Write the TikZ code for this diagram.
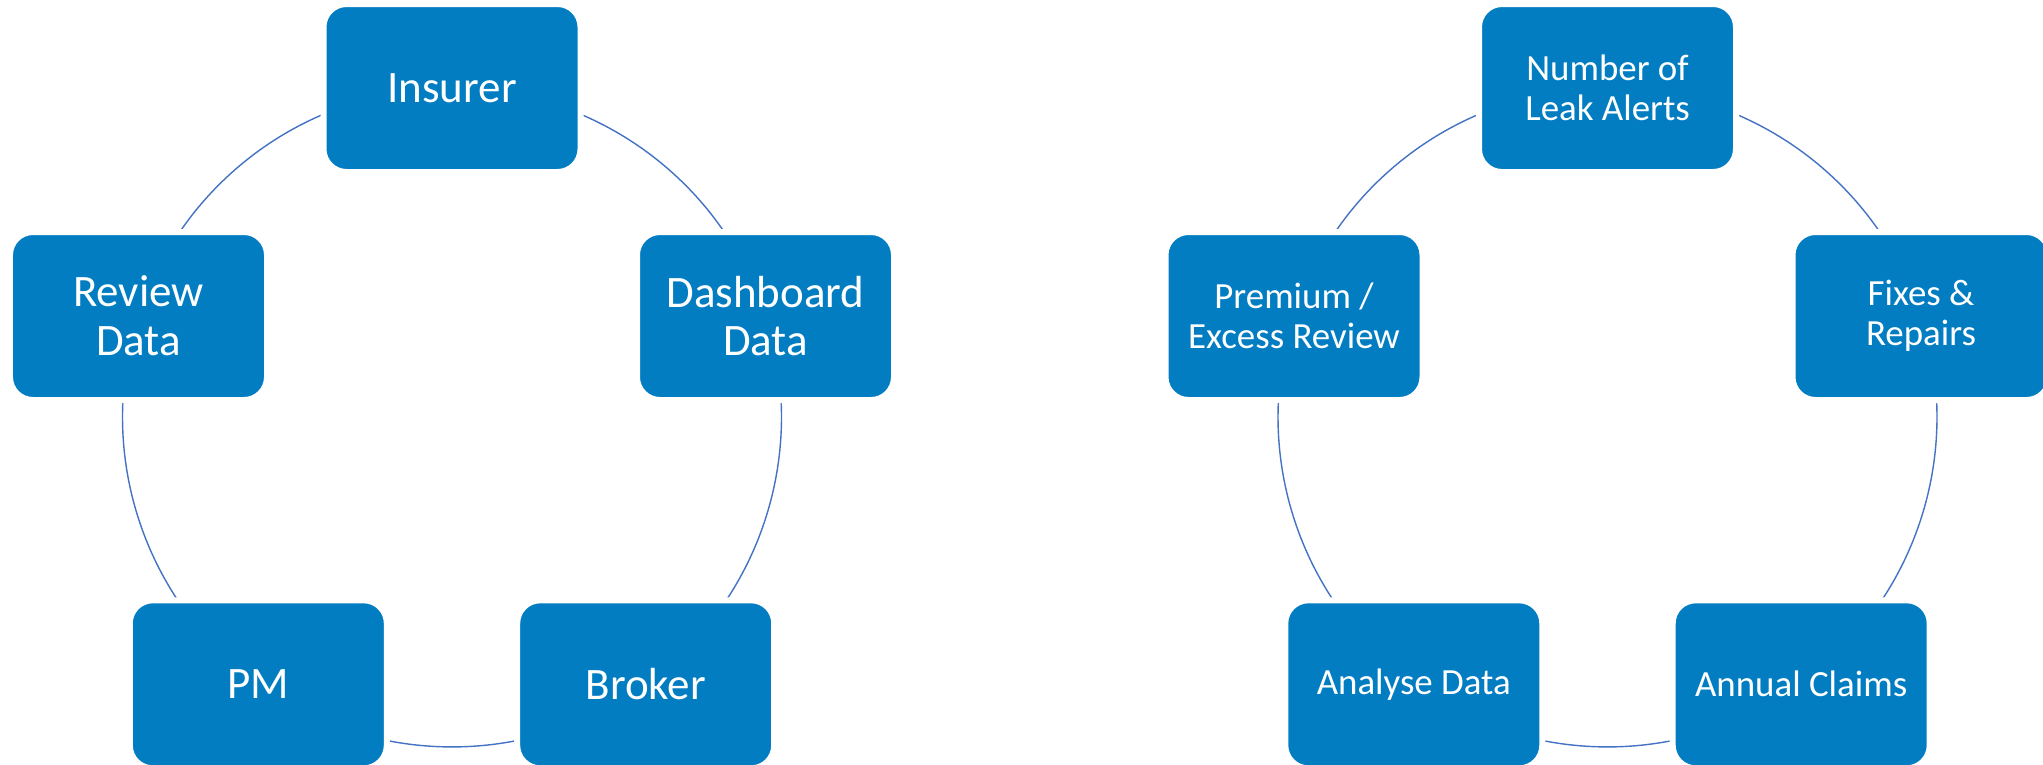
\documentclass[tikz,border=0pt]{standalone}
\usepackage{fontspec}
\setmainfont{Carlito}
\definecolor{cycleblue}{RGB}{3, 125, 194}
\definecolor{arcblue}{RGB}{68, 114, 196}
\usetikzlibrary{backgrounds}

\tikzset{
  cyclebox/.style={fill=cycleblue, draw=white, line width=0.6mm, rounded corners=2.3mm,
    minimum width=2.57cm, minimum height=1.68cm, inner sep=2pt, text=white, align=center},
  bigtext/.style={font=\fontsize{12.8}{13.9}\selectfont},
  smalltext/.style={font=\fontsize{10.5}{11.5}\selectfont},
  cyclearc/.style={draw=arcblue, line width=0.4pt}
}

\begin{document}
\begin{tikzpicture}
  \useasboundingbox (0, 0) rectangle (20.43, -7.64);

  % Parties cycle
  \node[cyclebox, bigtext] (ins) at (4.52, -0.88) {Insurer};
  \node[cyclebox, bigtext] (dash) at (7.655, -3.16) {Dashboard\\Data};
  \node[cyclebox, bigtext] (broker) at (6.457, -6.843) {Broker};
  \node[cyclebox, bigtext] (pm) at (2.583, -6.843) {PM};
  \node[cyclebox, bigtext] (review) at (1.385, -3.16) {Review\\Data};

  % Claims cycle
  \node[cyclebox, smalltext] (alerts) at (16.075, -0.88) {Number of\\Leak Alerts};
  \node[cyclebox, smalltext] (fixes) at (19.21, -3.16) {Fixes \&\\Repairs};
  \node[cyclebox, smalltext] (claims) at (18.012, -6.843) {Annual Claims};
  \node[cyclebox, smalltext] (analyse) at (14.138, -6.843) {Analyse Data};
  \node[cyclebox, smalltext] (premium) at (12.94, -3.16) {Premium /\\Excess Review};

  % arcs run behind the boxes
  \begin{scope}[on background layer]
    \draw[cyclearc] (ins.center) to[bend left=36, looseness=0.94] (dash.center);
    \draw[cyclearc] (dash.center) to[bend left=36, looseness=0.94] (broker.center);
    \draw[cyclearc] (broker.center) to[bend left=36, looseness=0.94] (pm.center);
    \draw[cyclearc] (pm.center) to[bend left=36, looseness=0.94] (review.center);
    \draw[cyclearc] (review.center) to[bend left=36, looseness=0.94] (ins.center);

    \draw[cyclearc] (alerts.center) to[bend left=36, looseness=0.94] (fixes.center);
    \draw[cyclearc] (fixes.center) to[bend left=36, looseness=0.94] (claims.center);
    \draw[cyclearc] (claims.center) to[bend left=36, looseness=0.94] (analyse.center);
    \draw[cyclearc] (analyse.center) to[bend left=36, looseness=0.94] (premium.center);
    \draw[cyclearc] (premium.center) to[bend left=36, looseness=0.94] (alerts.center);
  \end{scope}
\end{tikzpicture}
\end{document}
